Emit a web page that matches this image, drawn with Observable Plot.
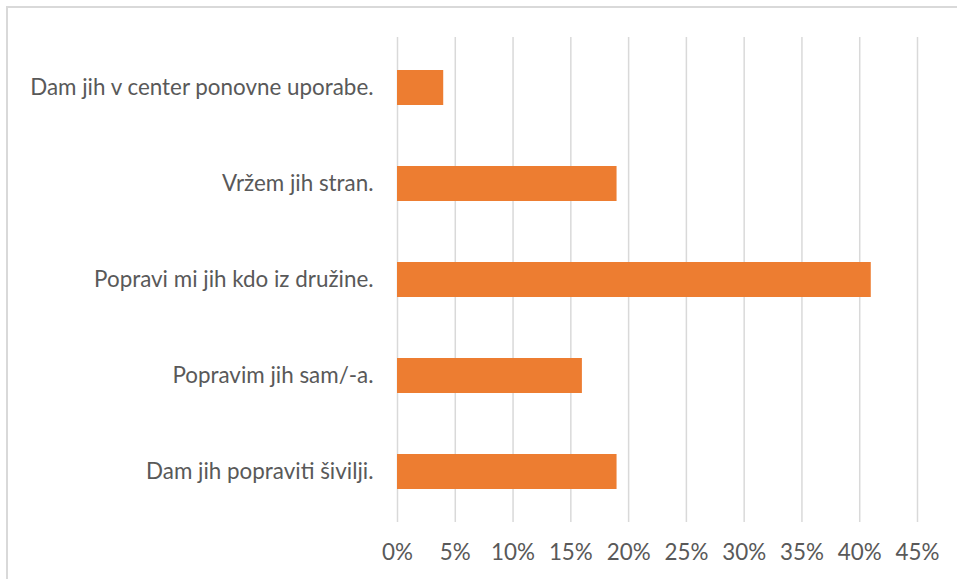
<!DOCTYPE html>
<html>
<head>
<meta charset="utf-8">
<script src="https://cdn.jsdelivr.net/npm/d3@7"></script>
<script src="https://cdn.jsdelivr.net/npm/@observablehq/plot@0.6"></script>
<style>
  html, body { margin: 0; padding: 0; background: #fff; overflow: hidden; }
  #wrap { position: relative; width: 957px; height: 579px; }
  #border { position: absolute; left: 6px; top: 6px; width: 980px; height: 600px; border: 2px solid #d9d9d9; box-sizing: border-box; pointer-events: none; }
  #chart { position: absolute; left: 0; top: 0; }
</style>
</head>
<body>
<div id="wrap"><div id="chart"></div><div id="border"></div></div>
<script>
const categories = [
  "Dam jih v center ponovne uporabe.",
  "Vržem jih stran.",
  "Popravi mi jih kdo iz družine.",
  "Popravim jih sam/-a.",
  "Dam jih popraviti šivilji."
];
const values = [0.04, 0.19, 0.41, 0.16, 0.19];
const xTicks = [0, 0.05, 0.10, 0.15, 0.20, 0.25, 0.30, 0.35, 0.40, 0.45];

const data = categories.map((c, i) => ({category: c, value: values[i]}));
const pct = d => Math.round(d * 100) + "%";

const chart = Plot.plot({
  width: 957,
  height: 579,
  marginLeft: 397,
  marginRight: 40,
  marginTop: 37,
  marginBottom: 57,
  style: {fontFamily: "Lato, 'Open Sans', sans-serif", fontSize: "22.4px", color: "#595959", background: "transparent"},
  x: {domain: [0, 0.45], ticks: xTicks, tickFormat: pct, label: null},
  y: {domain: categories, paddingInner: 0.638, paddingOuter: 0.325, label: null},
  marks: [
    Plot.gridX(xTicks, {stroke: "#d9d9d9", strokeOpacity: 1, strokeWidth: 1.5}),
    Plot.barX(data, {x: "value", y: "category", fill: "#ED7D31"}),
    Plot.axisX({ticks: xTicks, tickSize: 0, tickPadding: 22, tickFormat: pct, label: null, fill: "#595959", fontSize: 22.4}),
    Plot.axisY({tickSize: 0, tickPadding: 24, label: null, fill: "#595959", fontSize: 22.4})
  ]
});
document.getElementById("chart").appendChild(chart);
</script>
</body>
</html>
